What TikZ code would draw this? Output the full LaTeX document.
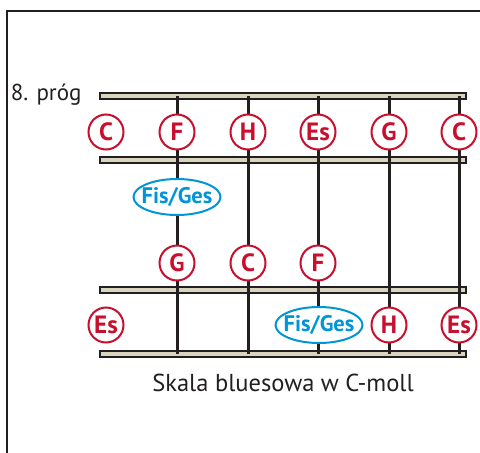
\documentclass[tikz,border=0pt]{standalone}
\usepackage{fontspec}
\setmainfont{PT Sans}
\usetikzlibrary{shapes.geometric}

\definecolor{notered}{RGB}{200,16,46}
\definecolor{noteblue}{RGB}{0,150,214}
\definecolor{fretfill}{RGB}{217,212,190}
\definecolor{inkgray}{RGB}{35,31,32}

\tikzset{
  fret/.style={draw=inkgray,line width=1.5pt,fill=fretfill},
  saite/.style={draw=inkgray,line width=3pt},
  note/.style={circle,draw=notered,line width=2pt,fill=white,text=notered,minimum size=35pt,inner sep=0pt,font={\fontsize{25}{25}\selectfont\bfseries}},
  bluenote/.style={ellipse,draw=noteblue,line width=2pt,fill=white,minimum width=87pt,minimum height=36pt,inner sep=0pt},
  bluetext/.style={text=noteblue,inner sep=0pt,font={\fontsize{22.5}{22.5}\selectfont\bfseries}},
  caption/.style={text=inkgray,font={\fontsize{24.5}{24.5}\selectfont}}
}

\begin{document}
\begin{tikzpicture}[x=1pt,y=-1pt]

\clip (0,0) rectangle (480,453);
\fill[white] (0,0) rectangle (480,453);
\draw[inkgray,line width=2pt] (7,480) -- (7,11) -- (495,11);

% frets
\draw[fret] (100,93) rectangle (466,99);
\draw[fret] (100,157) rectangle (466,163);
\draw[fret] (100,287) rectangle (466,293);
\draw[fret] (100,351) rectangle (466,357);

% strings
\draw[saite] (177,96) -- (177,354);
\draw[saite] (248,96) -- (248,354);
\draw[saite] (318,96) -- (318,354);
\draw[saite] (389,96) -- (389,354);
\draw[saite] (459,96) -- (459,354);

\node[caption,anchor=east,font={\fontsize{23}{23}\selectfont}] (prog) at (85,95) {8. próg};

\node[note] (c1) at (106,132) {C};
\node[note] (f1) at (177,132) {F};
\node[note] (h1) at (248,132) {H};
\node[note] (es1) at (318,132) {Es};
\node[note] (g1) at (389,132) {G};
\node[note] (c2) at (459,132) {C};

\node[bluenote] (fis1) at (177,197) {};
\node[bluetext] (fis1text) at (fis1) {Fis/Ges};

\node[note] (g2) at (177,263) {G};
\node[note] (c3) at (248,263) {C};
\node[note] (f2) at (318,263) {F};

\node[note] (es2) at (106,325) {Es};
\node[bluenote] (fis2) at (319,325) {};
\node[bluetext] (fis2text) at (fis2) {Fis/Ges};
\node[note] (h2) at (389,325) {H};
\node[note] (es3) at (459,325) {Es};

\node[caption] (title) at (283,383) {Skala bluesowa w C-moll};

\end{tikzpicture}
\end{document}
